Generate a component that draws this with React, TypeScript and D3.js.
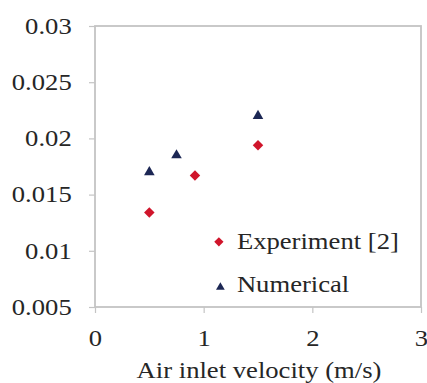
import { useEffect, useRef } from 'react';
import * as d3 from 'd3';

const experimentX = [0.5, 0.92, 1.5];
const experimentY = [0.0134, 0.0167, 0.0194];
const numericalX = [0.5, 0.75, 1.5];
const numericalY = [0.017, 0.0185, 0.022];
const xTicks = [0, 1, 2, 3];
const yTicks = [0.005, 0.01, 0.015, 0.02, 0.025, 0.03];
const seriesNames = ['Experiment [2]', 'Numerical'];

const RED = '#d0152b';
const NAVY = '#1c2754';
const GRID = '#c4c4c4';
const TEXT = '#262626';
const FONT = '"Liberation Serif", "Times New Roman", serif';
const FONT_SIZE = 24;
// the source image is a bit stretched sideways, so the text is too
const STRETCH = 'scale(1.11,1)';

export default function App() {
  const svgRef = useRef<SVGSVGElement>(null);

  useEffect(() => {
    if (!svgRef.current) return;
    const width = 427;
    const height = 383;
    const margin = { top: 26, right: 6, bottom: 76, left: 95 };
    const innerWidth = width - margin.left - margin.right;
    const innerHeight = height - margin.top - margin.bottom;

    const svg = d3.select(svgRef.current);
    svg.selectAll('*').remove();
    svg.attr('width', width).attr('height', height);

    const x = d3.scaleLinear().domain([0, 3]).range([0, innerWidth]);
    const y = d3.scaleLinear().domain([0.005, 0.03]).range([innerHeight, 0]);

    const g = svg.append('g').attr('transform', `translate(${margin.left},${margin.top})`);

    // plot frame
    g.append('rect')
      .attr('width', innerWidth)
      .attr('height', innerHeight)
      .attr('fill', 'none')
      .attr('stroke', GRID)
      .attr('stroke-width', 1.8);

    const xAxis = g.append('g')
      .attr('transform', `translate(0,${innerHeight})`)
      .call(d3.axisBottom(x).tickValues(xTicks).tickSize(6).tickPadding(16).tickFormat((d) => `${d}`));
    const yAxis = g.append('g')
      .call(d3.axisLeft(y).tickValues(yTicks).tickSize(6).tickPadding(15).tickFormat((d) => `${d}`));

    [xAxis, yAxis].forEach((ax) => {
      ax.attr('font-family', FONT).attr('font-size', FONT_SIZE);
      ax.select('.domain').remove();
      ax.selectAll('.tick line').attr('stroke', GRID).attr('stroke-width', 1.2);
      ax.selectAll('text')
        .attr('fill', TEXT)
        .style('font-family', FONT)
        .style('font-size', `${FONT_SIZE}px`)
        .attr('transform', STRETCH);
    });
    yAxis.selectAll('text').attr('dy', '0.3em');

    g.append('g')
      .attr('transform', `translate(${innerWidth / 2 + 1},${innerHeight + 71})`)
      .append('text')
      .attr('text-anchor', 'middle')
      .attr('transform', STRETCH)
      .style('font-family', FONT)
      .style('font-size', `${FONT_SIZE}px`)
      .attr('fill', TEXT)
      .text('Air inlet velocity (m/s)');

    const diamond = d3.symbol().type(d3.symbolDiamond2);
    const triangle = d3.symbol().type(d3.symbolTriangle2);

    g.selectAll('.num')
      .data(numericalX)
      .join('path')
      .attr('class', 'num')
      .attr('d', triangle.size(80)())
      .attr('transform', (d, i) => `translate(${x(d)},${y(numericalY[i])})`)
      .attr('fill', NAVY);

    g.selectAll('.exp')
      .data(experimentX)
      .join('path')
      .attr('class', 'exp')
      .attr('d', diamond.size(70)())
      .attr('transform', (d, i) => `translate(${x(d)},${y(experimentY[i])})`)
      .attr('fill', RED);

    // legend
    const legend = g.append('g').attr('transform', `translate(${x(1.14)},${y(0.0108)})`);
    seriesNames.forEach((name, i) => {
      const row = legend.append('g').attr('transform', `translate(0,${i * 42.4})`);
      row.append('path')
        .attr('d', (i === 0 ? diamond : triangle).size(55)())
        .attr('transform', `translate(${i === 0 ? 0 : 1.5},${i === 0 ? 0 : 3})`)
        .attr('fill', i === 0 ? RED : NAVY);
      row.append('g')
        .attr('transform', 'translate(18,7.6)')
        .append('text')
        .attr('transform', STRETCH)
        .style('font-family', FONT)
        .style('font-size', `${FONT_SIZE}px`)
        .attr('fill', TEXT)
        .text(name);
    });
  }, []);

  return (
    <div style={{ position: 'absolute', left: 0, top: 0, background: '#fff' }}>
      <svg ref={svgRef} />
    </div>
  );
}
